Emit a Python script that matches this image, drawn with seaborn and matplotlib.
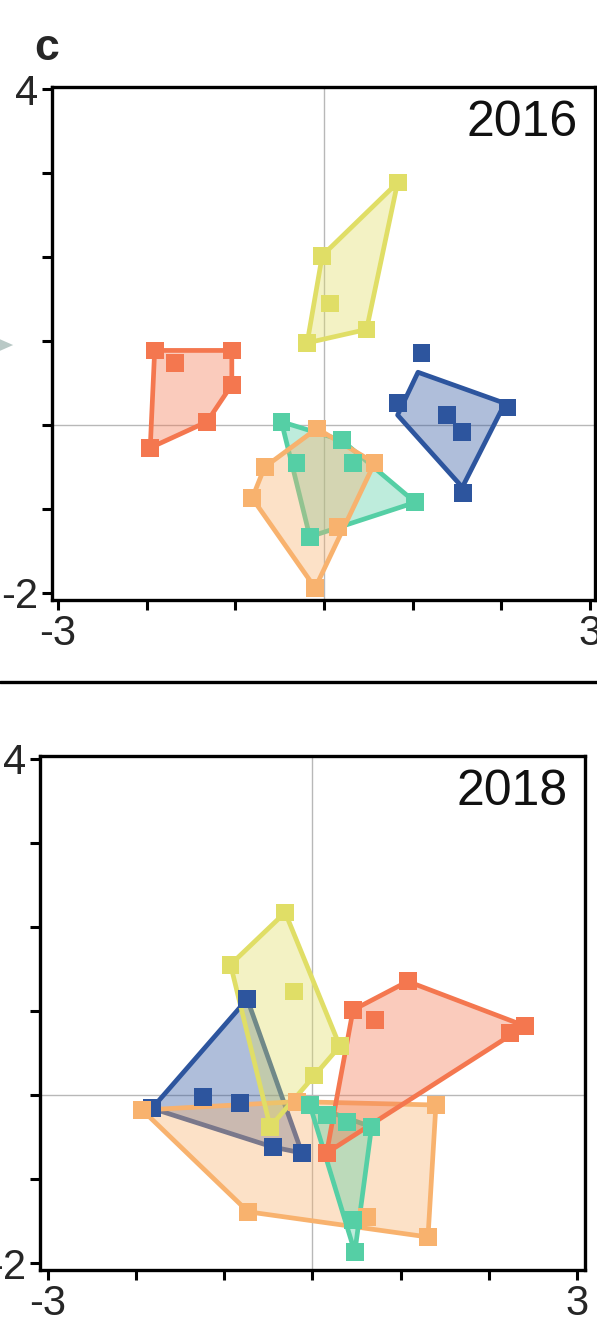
import matplotlib
matplotlib.use("Agg")
import numpy as np
import pandas as pd
import matplotlib.pyplot as plt
import seaborn as sns
from matplotlib.lines import Line2D
from matplotlib.patches import Polygon

# ---- data: ordination scores per site group -------------------------------
groups = ["coral", "yellow", "blue", "teal", "orange"]
edge_colors = {"coral": "#F4774F", "yellow": "#E0DE66", "blue": "#2D559E",
               "teal": "#55CFA5", "orange": "#F8B26E"}

# 2016
x16_coral = [-1.91, -1.68, -1.04, -1.04, -1.32, -1.96]
y16_coral = [0.89, 0.74, 0.89, 0.48, 0.04, -0.27]
x16_yellow = [0.83, -0.02, 0.07, -0.19, 0.48]
y16_yellow = [2.89, 2.02, 1.45, 0.98, 1.14]
x16_blue = [1.10, 0.83, 2.07, 1.39, 1.56, 1.57]
y16_blue = [0.86, 0.26, 0.21, 0.12, -0.08, -0.81]
x16_teal = [-0.48, 0.20, -0.31, 0.33, 1.03, -0.16]
y16_teal = [0.04, -0.18, -0.45, -0.45, -0.92, -1.33]
x16_orange = [-0.08, 0.57, -0.67, -0.81, 0.16, -0.10]
y16_orange = [-0.04, -0.45, -0.50, -0.87, -1.21, -1.94]
# outline drawn for the blue group in 2016
x16_blue_outline = [1.06, 2.04, 1.56, 0.83]
y16_blue_outline = [0.63, 0.26, -0.74, 0.12]

# 2018
x18_coral = [1.08, 0.46, 0.71, 2.41, 2.24, 0.16]
y18_coral = [1.35, 1.01, 0.89, 0.82, 0.74, -0.69]
x18_yellow = [-0.31, -0.93, -0.21, 0.31, 0.02, -0.48]
y18_yellow = [2.17, 1.55, 1.23, 0.58, 0.23, -0.38]
x18_blue = [-1.82, -0.74, -1.24, -0.82, -0.45, -0.12]
y18_blue = [-0.16, 1.14, -0.02, -0.10, -0.62, -0.69]
x18_teal = [-0.03, 0.16, 0.39, 0.67, 0.46, 0.48]
y18_teal = [-0.12, -0.24, -0.32, -0.38, -1.49, -1.87]
x18_orange = [-1.93, -0.73, -0.18, 1.40, 1.31, 0.62]
y18_orange = [-0.18, -1.39, -0.08, -0.12, -1.69, -1.45]

years = ["2016", "2018"]
x_ticks = [-3, -2, -1, 0, 1, 2, 3]
x_ticklabels = ["-3", "", "", "", "", "", "3"]
y_ticks = [-2, -1, 0, 1, 2, 3, 4]
y_ticklabels = ["-2", "", "", "", "", "", "4"]


def convex_hull(xs, ys):
    pts = sorted(set(zip(xs, ys)))
    if len(pts) < 3:
        return pts

    def cross(o, a, b):
        return (a[0] - o[0]) * (b[1] - o[1]) - (a[1] - o[1]) * (b[0] - o[0])

    lower, upper = [], []
    for p in pts:
        while len(lower) >= 2 and cross(lower[-2], lower[-1], p) <= 0:
            lower.pop()
        lower.append(p)
    for p in reversed(pts):
        while len(upper) >= 2 and cross(upper[-2], upper[-1], p) <= 0:
            upper.pop()
        upper.append(p)
    return lower[:-1] + upper[:-1]


def frame(year):
    src = {
        "2016": {"coral": (x16_coral, y16_coral), "yellow": (x16_yellow, y16_yellow),
                 "blue": (x16_blue, y16_blue), "teal": (x16_teal, y16_teal),
                 "orange": (x16_orange, y16_orange)},
        "2018": {"coral": (x18_coral, y18_coral), "yellow": (x18_yellow, y18_yellow),
                 "blue": (x18_blue, y18_blue), "teal": (x18_teal, y18_teal),
                 "orange": (x18_orange, y18_orange)},
    }[year]
    rows = []
    for g in groups:
        xs, ys = src[g]
        rows += [{"group": g, "x": a, "y": b} for a, b in zip(xs, ys)]
    return pd.DataFrame(rows)


sns.set_style("ticks")
plt.rcParams["font.family"] = ["Liberation Sans", "DejaVu Sans"]

fig = plt.figure(figsize=(5.97, 13.41), dpi=100)
ax16 = fig.add_axes([0.0871, 0.5526, 0.9095, 0.3826])
ax18 = fig.add_axes([0.0670, 0.0529, 0.9129, 0.3833])

panel_setup = [
    (ax16, "2016", (-3.068, 3.056), ["teal", "orange", "coral", "yellow", "blue"]),
    (ax18, "2018", (-3.091, 3.091), ["blue", "orange", "yellow", "teal", "coral"]),
]

for ax, year, xlim, order in panel_setup:
    df = frame(year)
    ax.axhline(0, color="#b8b8b8", lw=1.0, zorder=0.5)
    ax.axvline(0, color="#b8b8b8", lw=1.0, zorder=0.5)

    # each hull is laid down fill-then-outline, so later fills veil earlier outlines
    for i, g in enumerate(order):
        sub = df[df["group"] == g]
        if year == "2016" and g == "blue":
            verts = list(zip(x16_blue_outline, y16_blue_outline))
        else:
            verts = convex_hull(sub["x"].tolist(), sub["y"].tolist())
        col = edge_colors[g]
        z = 1 + 0.1 * i
        ax.add_patch(Polygon(verts, closed=True, facecolor=col, alpha=0.38,
                             edgecolor="none", zorder=z))
        ax.add_patch(Polygon(verts, closed=True, facecolor="none",
                             edgecolor=col, lw=3.4, joinstyle="round",
                             zorder=z + 0.05))

    df["group"] = pd.Categorical(df["group"], categories=order, ordered=True)
    df = df.sort_values("group")
    sns.scatterplot(data=df, x="x", y="y", hue="group", hue_order=order,
                    palette=edge_colors, marker="s", s=165, linewidth=0,
                    legend=False, ax=ax, zorder=3)

    ax.set_xlim(*xlim)
    ax.set_ylim(-2.083, 4.03)
    ax.set_xticks(x_ticks)
    ax.set_xticklabels(x_ticklabels)
    ax.set_yticks(y_ticks)
    ax.set_yticklabels(y_ticklabels)
    ax.set_xlabel("")
    ax.set_ylabel("")
    ax.tick_params(direction="out", length=7, width=2.2, labelsize=30,
                   pad=3, color="black")
    for sp in ax.spines.values():
        sp.set_visible(True)
        sp.set_linewidth(2.4)
        sp.set_color("black")
    ax.text(0.968, 0.93, year, transform=ax.transAxes, ha="right", va="center",
            fontsize=36, color="#111111")

# panel letter and divider between the two years
fig.text(0.058, 0.964, "c", fontsize=32, fontweight="bold", ha="left", va="center")
fig.add_artist(Line2D([0, 1], [0.4914, 0.4914], transform=fig.transFigure,
                      color="black", lw=2.4))
fig.add_artist(Polygon([(0.0, 0.7470), (0.022, 0.7427), (0.0, 0.7384)], closed=True,
                       transform=fig.transFigure, facecolor="#b9c9c6",
                       edgecolor="none"))

fig.savefig("out.png", dpi=100)
